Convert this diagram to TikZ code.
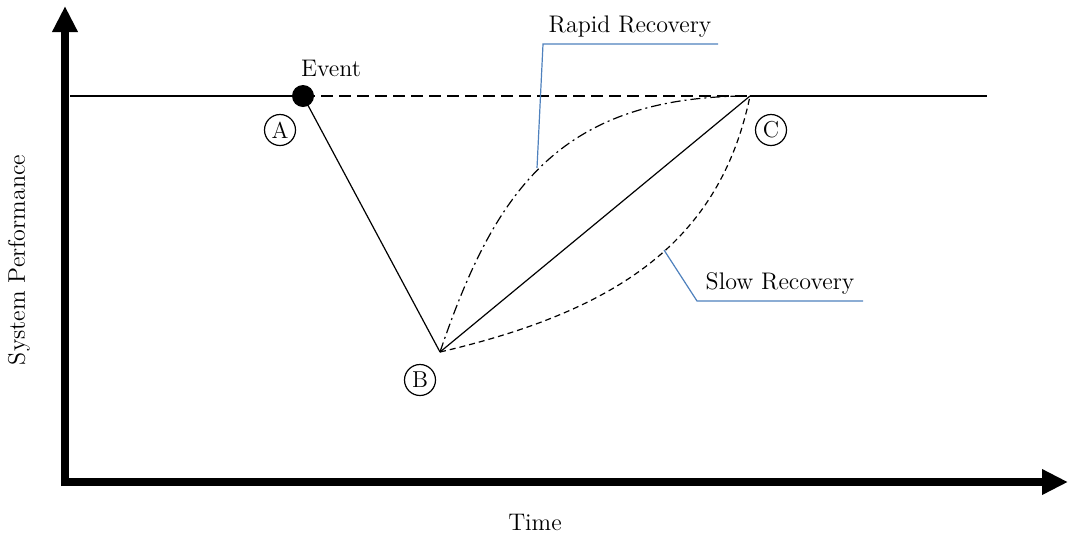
\documentclass[tikz,border=0pt]{standalone}
\usetikzlibrary{arrows.meta}
\definecolor{leader}{RGB}{79,129,189}
\tikzset{
  axis/.style={line width=4pt,-{Triangle[length=13pt,width=12pt]}},
  thin/.style={line width=0.6pt},
  lbl/.style={circle,draw,thin,minimum size=15.5pt,inner sep=0pt,font=\fontsize{11.5}{12}\selectfont},
  txt/.style={font=\fontsize{12}{14}\selectfont},
  lead/.style={draw=leader,line width=0.6pt}
}
\begin{document}
\begin{tikzpicture}[x=0.5pt,y=-0.5pt]
\useasboundingbox (0,0) rectangle (1068,537);
% axes
\coordinate (Ytop) at (65,6);
\coordinate (Xend) at (1068,482);
\draw[axis] (65,486) -- (Ytop);
\draw[axis] (61,482) -- (Xend);
% key points
\coordinate (L) at (70,96);
\coordinate (A) at (303,96);
\coordinate (B) at (440,352);
\coordinate (C) at (750,96);
\coordinate (R) at (987,96);
\draw[thin] (L) -- (A);
\draw[thin,dash pattern=on 6pt off 3pt] (A) -- (C);
\draw[thin] (C) -- (R);
\draw[thin] (A) -- (B);
\draw[thin] (B) -- (C);
\draw[thin,dash pattern=on 5pt off 2pt on 1pt off 2pt] (B) .. controls (495,190) and (560,96) .. (C);
\draw[thin,dash pattern=on 3pt off 2pt] (B) .. controls (620,310) and (720,240) .. (C);
\fill (A) circle (11);
% labels
\node[txt] (ev) at (331,68) {Event};
\node[lbl] (la) at (280,130) {A};
\node[lbl] (lb) at (420,380) {B};
\node[lbl] (lc) at (771,130) {C};
% leaders
\coordinate (r1) at (537,168);
\coordinate (r2) at (543,44);
\coordinate (r3) at (718,44);
\draw[lead] (r1) -- (r2) -- (r3);
\node[txt,anchor=south] (rr) at (630,44) {Rapid Recovery};
\coordinate (s1) at (664,250);
\coordinate (s2) at (697,301);
\coordinate (s3) at (863,301);
\draw[lead] (s1) -- (s2) -- (s3);
\node[txt,anchor=south] (sr) at (780,301) {Slow Recovery};
% axis titles
\node[txt,rotate=90] (yt) at (19,260) {System Performance};
\node[txt] (xt) at (535,522) {Time};
\end{tikzpicture}
\end{document}
